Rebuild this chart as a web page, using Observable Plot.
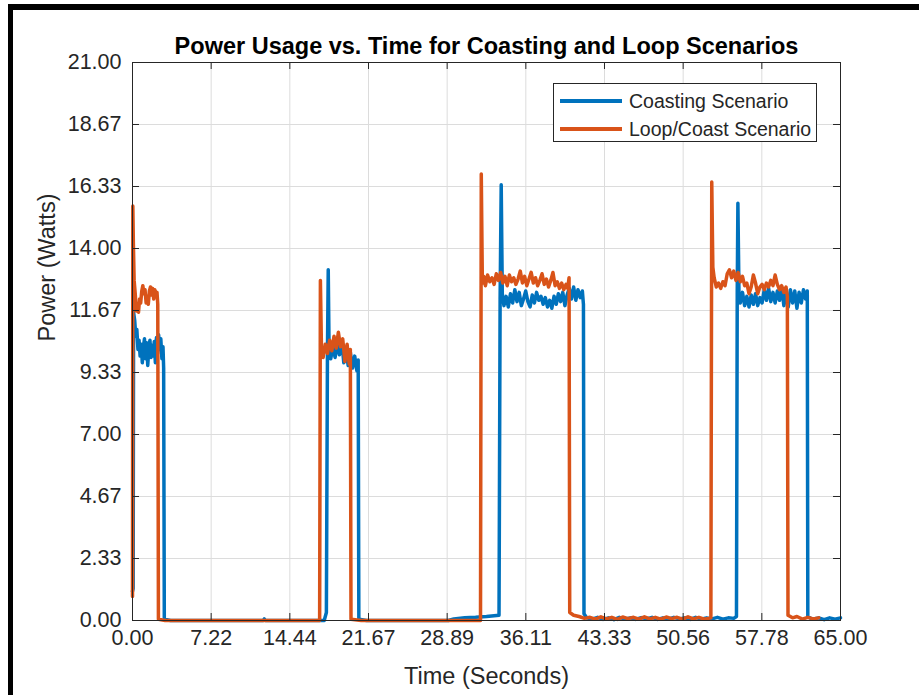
<!DOCTYPE html>
<html>
<head>
<meta charset="utf-8">
<script src="https://cdn.jsdelivr.net/npm/d3@7"></script>
<script src="https://cdn.jsdelivr.net/npm/@observablehq/plot@0.6"></script>
<style>
  html, body { margin: 0; padding: 0; background: #fff; }
  #wrap { position: relative; width: 919px; height: 695px; overflow: hidden; font-family: "Liberation Sans", Arial, sans-serif; }
  #wrap svg { position: absolute; left: 0; top: 0; }
  .bar { position: absolute; background: #000; }
  #legend { position: absolute; left: 553px; top: 83px; width: 264px; height: 59px; border: 1px solid #262626; background: #fff; box-sizing: border-box; }
  .item { position: absolute; left: 0; height: 24px; width: 262px; }
  .swatch { position: absolute; left: 6px; top: 10px; width: 62px; height: 3.5px; }
  .lab { position: absolute; left: 75px; top: 0; font-size: 19.5px; line-height: 24px; color: #262626; white-space: nowrap; }
</style>
</head>
<body>
<div id="wrap"></div>
<script>
// ---- data ----
const titleText = "Power Usage vs. Time for Coasting and Loop Scenarios";
const xLabel = "Time (Seconds)";
const yLabel = "Power (Watts)";
const seriesNames = ["Coasting Scenario", "Loop/Coast Scenario"];
const seriesColors = ["#0072BD", "#D95319"];
const xTicks = [0, 7.2222, 14.4444, 21.6667, 28.8889, 36.1111, 43.3333, 50.5556, 57.7778, 65];
const yTicks = [0, 2.3333, 4.6667, 7, 9.3333, 11.6667, 14, 16.3333, 18.6667, 21];

const coastTime = [
  0.00, 0.06, 0.10, 0.20, 0.30, 0.40, 0.50, 0.60, 0.70, 0.80, 0.90, 1.00, 1.10, 1.20, 1.30, 1.40, 1.50, 1.60, 1.70, 1.80,
  1.90, 2.00, 2.10, 2.20, 2.30, 2.40, 2.50, 2.60, 2.70, 2.80, 2.86, 2.92, 3.50, 8.00, 12.00, 12.10, 12.20, 17.60, 17.80, 17.90,
  17.97, 18.05, 18.20, 18.40, 18.60, 18.80, 19.00, 19.20, 19.40, 19.60, 19.80, 20.00, 20.20, 20.40, 20.60, 20.72, 20.78, 21.50, 26.00, 29.00,
  29.50, 30.50, 31.50, 32.50, 33.20, 33.65, 33.75, 33.85, 33.95, 34.10, 34.30, 34.50, 34.70, 34.90, 35.10, 35.30, 35.50, 35.70, 35.90, 36.10,
  36.30, 36.50, 36.70, 36.90, 37.10, 37.30, 37.50, 37.70, 37.90, 38.10, 38.30, 38.50, 38.70, 38.90, 39.10, 39.30, 39.50, 39.70, 39.90, 40.10,
  40.30, 40.50, 40.70, 40.90, 41.10, 41.30, 41.40, 41.45, 41.70, 42.20, 42.70, 43.20, 43.70, 44.20, 44.70, 45.20, 45.70, 46.20, 46.70, 47.20,
  47.70, 48.20, 48.70, 49.20, 49.70, 50.20, 50.70, 51.20, 51.70, 52.20, 52.70, 53.20, 53.70, 54.20, 54.70, 55.20, 55.45, 55.52, 55.58, 55.68,
  55.80, 56.00, 56.20, 56.40, 56.60, 56.80, 57.00, 57.20, 57.40, 57.60, 57.80, 58.00, 58.20, 58.40, 58.60, 58.80, 59.00, 59.20, 59.40, 59.60,
  59.80, 60.00, 60.20, 60.40, 60.60, 60.80, 61.00, 61.20, 61.40, 61.60, 61.80, 61.95, 62.00, 62.40, 63.00, 63.50, 64.00, 64.50, 65.00
];
const coastPower = [
  1.10, 1.20, 11.60, 11.30, 10.70, 10.95, 10.20, 10.55, 9.95, 10.40, 9.70, 10.30, 10.60, 9.85, 10.45, 9.60, 10.25, 10.55, 9.90, 10.35,
  9.95, 10.50, 9.70, 10.65, 10.05, 10.75, 10.20, 10.60, 9.85, 10.30, 9.50, 0.05, 0.00, 0.00, 0.00, 0.06, 0.00, 0.00, 0.30, 10.20,
  13.20, 10.10, 9.85, 10.30, 9.90, 10.40, 10.00, 10.55, 9.70, 10.20, 9.60, 10.10, 9.50, 9.95, 9.40, 9.80, 0.05, 0.00, 0.00, 0.00,
  0.06, 0.10, 0.12, 0.15, 0.18, 0.20, 12.10, 16.40, 12.30, 11.85, 12.20, 11.80, 12.30, 11.95, 12.45, 12.00, 12.35, 11.85, 12.10, 12.40,
  12.00, 11.80, 12.25, 11.95, 12.35, 12.05, 12.20, 11.90, 12.15, 11.80, 12.05, 11.75, 12.20, 11.90, 12.30, 12.00, 12.35, 11.85, 12.25, 12.50,
  12.10, 12.55, 12.05, 12.45, 12.15, 12.40, 11.90, 0.25, 0.10, 0.05, 0.12, 0.04, 0.10, 0.03, 0.12, 0.05, 0.10, 0.04, 0.11, 0.06,
  0.12, 0.04, 0.10, 0.05, 0.12, 0.06, 0.10, 0.04, 0.12, 0.05, 0.10, 0.06, 0.12, 0.05, 0.10, 0.08, 0.15, 12.40, 15.70, 12.30,
  11.95, 12.35, 11.85, 12.20, 11.80, 12.25, 11.90, 12.30, 11.85, 12.15, 11.95, 12.45, 12.05, 12.50, 12.00, 12.35, 11.95, 12.40, 12.05, 12.50,
  11.85, 12.30, 11.80, 12.45, 11.95, 12.40, 11.75, 12.35, 11.95, 12.45, 12.10, 12.40, 0.15, 0.05, 0.10, 0.03, 0.10, 0.05, 0.10
];

const loopTime = [
  0.00, 0.03, 0.08, 0.15, 0.25, 0.35, 0.45, 0.55, 0.65, 0.75, 0.85, 0.95, 1.05, 1.15, 1.25, 1.35, 1.45, 1.55, 1.65, 1.75,
  1.85, 1.95, 2.05, 2.15, 2.25, 2.32, 2.38, 3.00, 8.00, 13.00, 17.18, 17.25, 17.35, 17.50, 17.70, 17.90, 18.10, 18.30, 18.50, 18.70,
  18.90, 19.10, 19.30, 19.50, 19.70, 19.90, 20.00, 20.06, 21.00, 27.00, 31.95, 32.02, 32.12, 32.25, 32.40, 32.60, 32.80, 33.00, 33.20, 33.40,
  33.60, 33.80, 34.00, 34.20, 34.40, 34.60, 34.80, 35.00, 35.20, 35.40, 35.60, 35.80, 36.00, 36.20, 36.40, 36.60, 36.80, 37.00, 37.20, 37.40,
  37.60, 37.80, 38.00, 38.20, 38.40, 38.60, 38.80, 39.00, 39.20, 39.40, 39.60, 39.80, 39.95, 40.08, 40.14, 40.50, 41.00, 41.50, 42.00, 42.50,
  43.00, 43.50, 44.00, 44.50, 45.00, 45.50, 46.00, 46.50, 47.00, 47.50, 48.00, 48.50, 49.00, 49.50, 50.00, 50.50, 51.00, 51.50, 52.00, 52.50,
  53.10, 53.18, 53.28, 53.40, 53.60, 53.80, 54.00, 54.20, 54.40, 54.60, 54.80, 55.00, 55.20, 55.40, 55.60, 55.80, 56.00, 56.20, 56.40, 56.60,
  56.80, 57.00, 57.20, 57.40, 57.60, 57.80, 58.00, 58.20, 58.40, 58.60, 58.80, 59.00, 59.20, 59.40, 59.60, 59.80, 60.00, 60.12, 60.18, 60.60,
  61.00, 61.50, 62.00, 62.50, 63.00
];
const loopPower = [
  0.90, 15.60, 14.20, 12.80, 12.30, 11.65, 11.80, 11.60, 12.10, 11.95, 12.40, 12.60, 12.30, 12.45, 11.95, 12.20, 11.90, 12.40, 12.55, 12.25,
  12.50, 12.10, 12.45, 12.20, 12.35, 11.90, 0.05, 0.00, 0.00, 0.00, 0.00, 12.80, 10.20, 9.90, 10.40, 10.05, 10.55, 10.15, 10.70, 10.25,
  10.85, 10.30, 10.60, 9.75, 10.40, 9.65, 10.20, 0.05, 0.00, 0.00, 0.00, 16.80, 12.70, 12.95, 12.60, 13.00, 12.75, 12.90, 12.65, 13.05,
  12.80, 13.10, 12.70, 12.95, 12.60, 13.00, 12.75, 12.90, 12.65, 12.85, 13.15, 12.70, 12.95, 12.60, 12.85, 13.10, 12.70, 12.90, 12.60, 12.80,
  13.05, 12.65, 12.85, 12.55, 12.80, 13.10, 12.60, 12.75, 12.50, 12.70, 12.45, 12.65, 12.50, 12.90, 0.30, 0.20, 0.15, 0.08, 0.12, 0.05,
  0.14, 0.06, 0.12, 0.04, 0.13, 0.07, 0.12, 0.05, 0.14, 0.06, 0.12, 0.05, 0.13, 0.07, 0.12, 0.05, 0.14, 0.06, 0.12, 0.05,
  0.10, 16.50, 13.30, 12.90, 12.55, 12.70, 12.50, 12.75, 12.60, 13.05, 13.20, 12.90, 13.15, 12.80, 13.10, 12.75, 12.95, 12.60, 12.70, 12.30,
  12.55, 13.00, 12.70, 12.30, 12.55, 12.65, 12.45, 12.70, 12.55, 12.80, 12.60, 13.00, 12.65, 12.45, 12.60, 12.35, 12.55, 12.20, 0.20, 0.10,
  0.15, 0.05, 0.12, 0.06, 0.10
];

// ---- build tables ----
const coast = coastTime.map((t, i) => ({t, p: coastPower[i]}));
const loop = loopTime.map((t, i) => ({t, p: loopPower[i]}));
const ink = "#262626";
const font = "'Liberation Sans', Arial, Helvetica, sans-serif";

const chart = Plot.plot({
  width: 919,
  height: 695,
  marginLeft: 132,
  marginRight: 79,
  marginTop: 62,
  marginBottom: 75,
  style: {fontFamily: font, background: "transparent", overflow: "visible"},
  x: {domain: [0, 65]},
  y: {domain: [0, 21]},
  marks: [
    Plot.gridX(xTicks, {stroke: "#dcdcdc", strokeOpacity: 1}),
    Plot.gridY(yTicks, {stroke: "#dcdcdc", strokeOpacity: 1}),
    Plot.line(coast, {x: "t", y: "p", stroke: seriesColors[0], strokeWidth: 3.5, strokeLinejoin: "round"}),
    Plot.line(loop, {x: "t", y: "p", stroke: seriesColors[1], strokeWidth: 3.5, strokeLinejoin: "round"}),
    Plot.frame({stroke: ink, strokeWidth: 1}),
    Plot.tickY(yTicks, {y: d => d, insetRight: 701, stroke: ink}),
    Plot.tickY(yTicks, {y: d => d, insetLeft: 701, stroke: ink}),
    Plot.tickX(xTicks, {x: d => d, insetTop: 551, stroke: ink}),
    Plot.tickX(xTicks, {x: d => d, insetBottom: 551, stroke: ink}),
    Plot.axisY(yTicks, {tickSize: 0, tickPadding: 11, tickFormat: d => d.toFixed(2), fontSize: 21.5, color: ink, label: null}),
    Plot.axisX(xTicks, {tickSize: 0, tickPadding: 9, tickFormat: d => d.toFixed(2), fontSize: 21.5, color: ink, label: null}),
    Plot.text([titleText], {frameAnchor: "top", dy: -25, text: d => d, fontSize: 23.5, fontWeight: "bold", fill: "#000"}),
    Plot.text([xLabel], {frameAnchor: "bottom", dy: 63, text: d => d, fontSize: 23.5, fill: ink}),
    Plot.text([yLabel], {frameAnchor: "left", dx: -85, rotate: -90, text: d => d, fontSize: 23.5, fill: ink})
  ]
});

const wrap = document.getElementById("wrap");
wrap.appendChild(chart);

// legend
const legendBox = document.createElement("div");
legendBox.id = "legend";
seriesNames.forEach((name, i) => {
  const item = document.createElement("div");
  item.className = "item";
  item.style.top = (5 + i * 28) + "px";
  const sw = document.createElement("div");
  sw.className = "swatch";
  sw.style.background = seriesColors[i];
  const lab = document.createElement("div");
  lab.className = "lab";
  lab.textContent = name;
  item.appendChild(sw);
  item.appendChild(lab);
  legendBox.appendChild(item);
});
wrap.appendChild(legendBox);

// black picture frame (top and left edges)
const frameTop = document.createElement("div");
frameTop.className = "bar";
Object.assign(frameTop.style, {left: "8px", top: "4px", width: "911px", height: "6px"});
const frameLeft = document.createElement("div");
frameLeft.className = "bar";
Object.assign(frameLeft.style, {left: "8px", top: "4px", width: "5px", height: "691px"});
wrap.appendChild(frameTop);
wrap.appendChild(frameLeft);
</script>
</body>
</html>
